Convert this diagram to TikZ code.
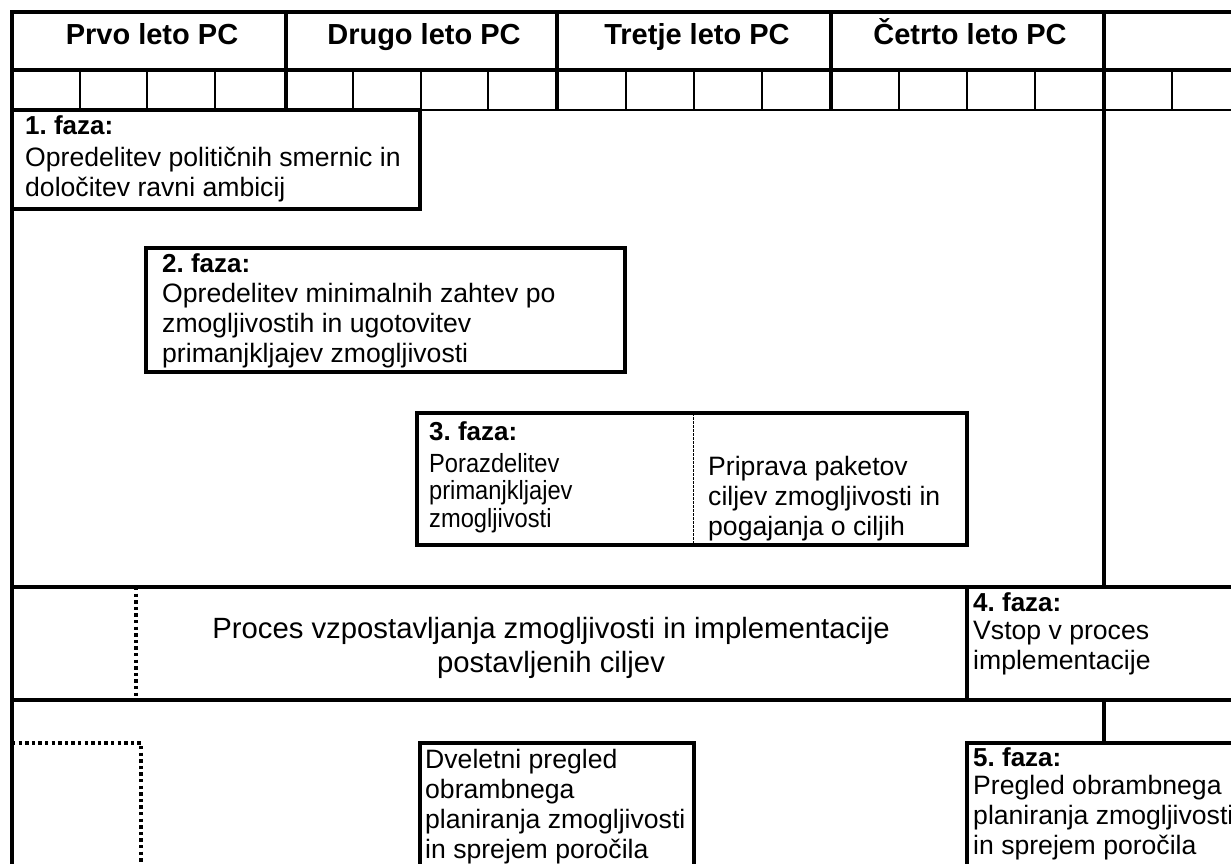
\documentclass[tikz,border=0pt]{standalone}
\usepackage{fontspec}
\setmainfont{Liberation Sans}
\newfontfamily\condfont[FakeStretch=0.9]{Liberation Sans}
\frenchspacing
\begin{document}
\begin{tikzpicture}[x=1pt,y=-1pt,
  thk/.style={line width=3.3pt},
  thn/.style={line width=2pt},
  mid/.style={line width=2.7pt},
  dotl/.style={line width=3.3pt, dash pattern=on 3.3pt off 3.3pt},
  divl/.style={line width=0.8pt, dash pattern=on 2.5pt off 1.5pt},
  hdr/.style={font=\fontsize{29}{33}\selectfont\bfseries, anchor=base, inner sep=0pt},
  lbl/.style={font=\fontsize{26}{30}\selectfont\bfseries, anchor=base west, inner sep=0pt},
  txt/.style={font=\fontsize{26.6}{30}\selectfont, align=left, anchor=base west, inner sep=0pt},
  txtn/.style={font=\condfont\fontsize{26.3}{27.5}\selectfont, align=left, anchor=base west, inner sep=0pt},
  big/.style={font=\fontsize{29.3}{34}\selectfont, align=center, anchor=base, inner sep=0pt}]
\useasboundingbox (0,0) rectangle (1231,864);
\clip (0,0) rectangle (1231,864);
% header grid
\draw[thk] (1240,12) -- (12,12) -- (12,880);
\draw[thk] (12,70) -- (1240,70);
\draw[mid] (12,110) -- (1240,110);
\foreach \x in {286,557,831,1104} \draw[thk] (\x,12) -- (\x,110);
\foreach \x in {80,147,215,353,421,488,626,694,762,899,967,1035,1172} \draw[thn] (\x,70) -- (\x,110);
\node[hdr] (y1) at (152,45) {Prvo leto PC};
\node[hdr] (y2) at (424,45) {Drugo leto PC};
\node[hdr] (y3) at (697,45) {Tretje leto PC};
\node[hdr] (y4) at (970,45) {Četrto leto PC};
% phase 1
\draw[thk] (12,110) rectangle (420,209);
\node[lbl] (f1) at (25,135) {1. faza:};
\node[txt] (t1) at (25,196) {Opredelitev političnih smernic in\\določitev ravni ambicij};
% right vertical
\draw[thk] (1104,110) -- (1104,587);
% phase 2
\draw[thk] (146,248) rectangle (625,372);
\node[lbl] (f2) at (162,272) {2. faza:};
\node[txt] (t2) at (162,362) {Opredelitev minimalnih zahtev po\\zmogljivostih in ugotovitev\\primanjkljajev zmogljivosti};
% phase 3
\draw[thk] (417,413) rectangle (967,545);
\draw[divl] (693,413) -- (693,545);
\node[lbl] (f3) at (429,440) {3. faza:};
\node[txtn] (t3a) at (429,527) {Porazdelitev\\primanjkljajev\\zmogljivosti};
\node[txt] (t3b) at (708,535) {Priprava paketov\\ciljev zmogljivosti in\\pogajanja o ciljih};
% process row
\draw[thk] (12,587) -- (1240,587);
\draw[thk] (12,700) -- (1240,700);
\draw[dotl] (136,587) -- (136,700);
\draw[thk] (967,587) -- (967,700);
\node[big] (proc) at (551,672) {Proces vzpostavljanja zmogljivosti in implementacije\\postavljenih ciljev};
\node[lbl] (f4) at (973,611) {4. faza:};
\node[txt] (t4) at (973,669) {Vstop v proces\\implementacije};
% bottom part
\draw[thk] (1104,700) -- (1104,743);
\draw[thk] (1240,743) -- (967,743) -- (967,880);
\node[lbl] (f5) at (973,766) {5. faza:};
\node[txt] (t5) at (973,854) {Pregled obrambnega\\planiranja zmogljivosti\\in sprejem poročila};
\draw[thk] (420,880) -- (420,743) -- (694,743) -- (694,880);
\node[txt] (t6) at (425,858) {Dveletni pregled\\obrambnega\\planiranja zmogljivosti\\in sprejem poročila};
\draw[dotl] (12,743) -- (141,743) -- (141,880);
\end{tikzpicture}
\end{document}
